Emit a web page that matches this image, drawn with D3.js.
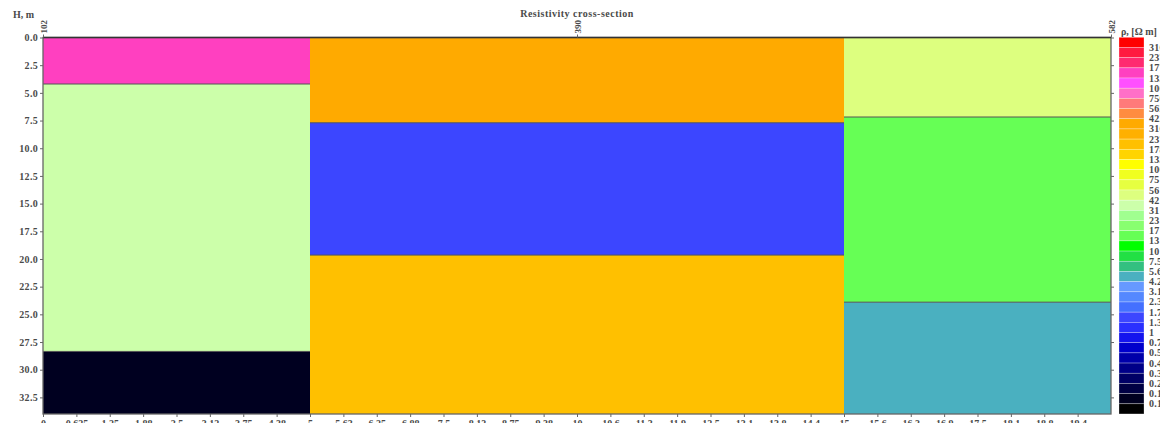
<!DOCTYPE html>
<html>
<head>
<meta charset="utf-8">
<script src="https://cdn.jsdelivr.net/npm/d3@7"></script>
<style>
  html, body { margin: 0; padding: 0; background: #fff; overflow: hidden; }
  svg { display: block; }
  text { font-family: "Liberation Serif", "DejaVu Serif", serif; }
</style>
</head>
<body>
<svg id="chart" width="1160" height="423"></svg>
<script>
// Model columns along the profile (distance units)
const colFrom = [0, 5, 15];
const colTo   = [5, 15, 20];

// Layers: column index, top and bottom depth (m), resistivity (Ohm m)
const layerCol    = [0, 0, 0, 1, 1, 1, 2, 2, 2];
const layerTop    = [0, 4.2, 28.35, 0, 7.7, 19.65, 0, 7.18, 23.9];
const layerBottom = [4.2, 28.35, 34, 7.7, 19.65, 34, 7.18, 23.9, 34];
const layerRho    = [1500, 36, 0.15, 370, 1.5, 200, 50, 15, 5];

// Stations marked along the top edge
const stationPos   = [0, 10, 20];
const stationLabel = ["102", "390", "582"];

// Depth ticks
const depthTicks = [0, 2.5, 5, 7.5, 10, 12.5, 15, 17.5, 20, 22.5, 25, 27.5, 30, 32.5];

// Distance ticks along the bottom
const distTicks = [0, 0.625, 1.25, 1.875, 2.5, 3.125, 3.75, 4.375, 5, 5.625, 6.25, 6.875,
  7.5, 8.125, 8.75, 9.375, 10, 10.625, 11.25, 11.875, 12.5, 13.125, 13.75, 14.375,
  15, 15.625, 16.25, 16.875, 17.5, 18.125, 18.75, 19.375];
const distTickLabels = ["0", "0.625", "1.25", "1.88", "2.5", "3.12", "3.75", "4.38", "5",
  "5.63", "6.25", "6.88", "7.5", "8.13", "8.75", "9.38", "10", "10.6", "11.3", "11.9",
  "12.5", "13.1", "13.8", "14.4", "15", "15.6", "16.3", "16.9", "17.5", "18.1", "18.8", "19.4"];

// Resistivity classes: ascending thresholds and colours (lowest first)
const rhoThresholds = [0.13, 0.17, 0.23, 0.31, 0.42, 0.56, 0.75, 1, 1.3, 1.7, 2.3, 3.1, 4.2,
  5.6, 7.5, 10, 13, 17, 23, 31, 42, 56, 75, 100, 133, 178, 237, 316, 422, 562, 750,
  1000, 1333, 1778, 2371, 3162];
const rhoColors = ["#000000", "#000020", "#000044", "#000066", "#000088", "#0000aa",
  "#0000cc", "#1414ee", "#2a30ff", "#3c46ff", "#4470ff", "#5588ff", "#6699ff",
  "#4ab0c0", "#33c080", "#22e044", "#00ff00", "#66ff55", "#88ff70", "#a0ff90",
  "#ccffaa", "#ddff7f", "#e6ff40", "#f0ff20", "#ffff00", "#ffd400", "#ffc000",
  "#ffb000", "#ffaa00", "#ff8c40", "#ff7a7a", "#ff70c8", "#ff50ff", "#ff40c0",
  "#ff2a70", "#ff1a40", "#ff0000"];

const svg = d3.select("#chart");
const x = d3.scaleLinear().domain([0, 20]).range([43, 1111]);
const y = d3.scaleLinear().domain([0, 34]).range([37.5, 414]);
const color = d3.scaleThreshold().domain(rhoThresholds).range(rhoColors);

const textCol = "#4a4a4a";
const fs = 10;

// Title and depth axis caption
svg.append("text").attr("x", 577).attr("y", 17).attr("text-anchor", "middle")
  .attr("font-size", fs).attr("font-weight", "bold").attr("fill", textCol)
  .attr("letter-spacing", 0.5)
  .text("Resistivity cross-section");
svg.append("text").attr("x", 13).attr("y", 18)
  .attr("font-size", fs).attr("font-weight", "bold").attr("fill", textCol)
  .text("H, m");

// Layer cells
const layers = layerCol.map((c, i) => ({c, top: layerTop[i], bot: layerBottom[i], rho: layerRho[i]}));
svg.append("g").selectAll("rect").data(layers).join("rect")
  .attr("x", d => x(colFrom[d.c]))
  .attr("y", d => y(d.top))
  .attr("width", d => x(colTo[d.c]) - x(colFrom[d.c]))
  .attr("height", d => y(d.bot) - y(d.top))
  .attr("fill", d => color(d.rho));

// Layer boundaries inside each column
svg.append("g").selectAll("line").data(layers.filter(d => d.top > 0)).join("line")
  .attr("x1", d => x(colFrom[d.c])).attr("x2", d => x(colTo[d.c]))
  .attr("y1", d => y(d.top)).attr("y2", d => y(d.top))
  .attr("stroke", "#555").attr("stroke-width", 1);

// Frame
svg.append("rect").attr("x", x(0)).attr("y", y(0))
  .attr("width", x(20) - x(0)).attr("height", y(34) - y(0))
  .attr("fill", "none").attr("stroke", "#666").attr("stroke-width", 1.3);
svg.append("line").attr("x1", x(0)).attr("x2", x(20)).attr("y1", y(0)).attr("y2", y(0))
  .attr("stroke", "#333").attr("stroke-width", 1.5);

function styleAxis(g) {
  g.select(".domain").remove();
  g.selectAll(".tick line").attr("stroke", "#666");
  g.selectAll(".tick text").attr("fill", textCol).attr("font-size", fs)
    .attr("font-family", "Liberation Serif, serif").attr("font-weight", "bold");
}

// Left depth axis
svg.append("g").attr("transform", `translate(${x(0)},0)`)
  .call(d3.axisLeft(y).tickValues(depthTicks).tickFormat(d3.format(".1f")).tickSize(3).tickPadding(2))
  .call(styleAxis)
  .selectAll(".tick text").attr("letter-spacing", 0.3);

// Right depth ticks (unlabelled)
svg.append("g").attr("transform", `translate(${x(20)},0)`)
  .call(d3.axisRight(y).tickValues(depthTicks).tickFormat("").tickSize(3))
  .call(styleAxis);

// Bottom distance axis
svg.append("g").attr("transform", `translate(0,${y(34)})`)
  .call(d3.axisBottom(x).tickValues(distTicks).tickFormat((d, i) => distTickLabels[i])
    .tickSize(3).tickPadding(3))
  .call(styleAxis);

// Top station axis with rotated labels
const stationAxis = svg.append("g").attr("transform", `translate(0,${y(0)})`)
  .call(d3.axisTop(x).tickValues(stationPos).tickFormat(d => stationLabel[stationPos.indexOf(d)])
    .tickSize(3))
  .call(styleAxis);
stationAxis.selectAll(".tick text")
  .attr("transform", "rotate(-90)")
  .attr("text-anchor", "start")
  .attr("font-size", 9)
  .attr("x", 4).attr("y", 0).attr("dy", "0.35em");

// Colour legend
const legTop = 37.3, legH = 10.18, legX = 1119, legW = 25;
const legend = svg.append("g");
const swatches = rhoColors.slice().reverse();
legend.selectAll("rect").data(swatches).join("rect")
  .attr("x", legX).attr("y", (d, j) => legTop + j * legH)
  .attr("width", legW).attr("height", legH)
  .attr("fill", d => d)
  .attr("stroke", "rgba(255,255,255,0.45)").attr("stroke-width", 0.6);

const labels = rhoThresholds.slice().reverse();
legend.selectAll("text.lab").data(labels).join("text").attr("class", "lab")
  .attr("x", legX + legW + 5)
  .attr("y", (d, i) => legTop + (i + 1) * legH)
  .attr("dy", "0.35em")
  .attr("font-size", fs).attr("font-weight", "bold").attr("fill", textCol)
  .attr("letter-spacing", 0.3)
  .text(d => String(d));

legend.append("text").attr("x", 1121).attr("y", 35)
  .attr("font-size", fs).attr("font-weight", "bold").attr("fill", textCol)
  .text("ρ, [Ω m]");
</script>
</body>
</html>
